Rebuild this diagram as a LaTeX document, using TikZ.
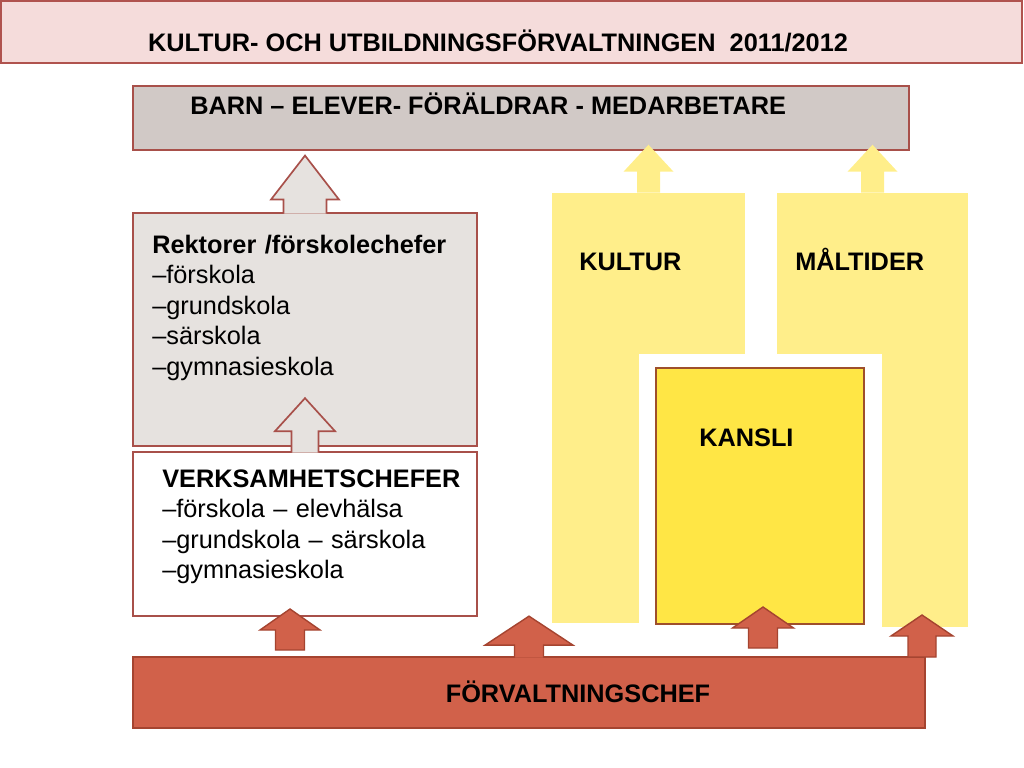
\documentclass[tikz,border=0pt]{standalone}
\usepackage{fontspec}
\setmainfont{Liberation Sans}
\usepackage{tikz}
\usetikzlibrary{positioning, fit}
\definecolor{orgtitle}{HTML}{F5DCDB}
\definecolor{orgtitleline}{HTML}{B0534E}
\definecolor{orgbarn}{HTML}{D1C9C6}
\definecolor{orgline}{HTML}{A8504A}
\definecolor{orgrekt}{HTML}{E6E2DF}
\definecolor{orgyellow}{HTML}{FFEE8A}
\definecolor{orgkansli}{HTML}{FFE645}
\definecolor{orgkansliline}{HTML}{9E4F2B}
\definecolor{orgred}{HTML}{D1614A}
\definecolor{orgredline}{HTML}{A54430}
% up arrow: [close], style, base, length, head length, head half width, shaft half width
\newcommand{\blockup}[7][]{\path[#2] (#3) ++(-#7,0) -- ++(0,-#4+#5) -- ++(-#6+#7,0)
  -- ++(#6,-#5) -- ++(#6,#5) -- ++(-#6+#7,0) -- ++(0,#4-#5) #1;}

\begin{document}
\begin{tikzpicture}[x=0.025cm, y=-0.025cm,
  box/.style={draw=orgline, line width=1.2pt, inner sep=0pt},
  ybox/.style={fill=orgyellow, inner sep=0pt},
  txt/.style={inner sep=0pt, font=\fontsize{18}{21.8}\selectfont},
  htxt/.style={txt, font=\fontsize{18}{21.8}\selectfont\bfseries},
  list/.style={txt, text width=8cm, align=left},
  garrow/.style={fill=orgrekt, draw=orgline, line width=1.2pt},
  yarrow/.style={fill=orgyellow},
  rarrow/.style={fill=orgred, draw=orgredline, line width=1pt}]
  \useasboundingbox (0,0) rectangle (1024,768);

  \node[box, fill=orgtitle, draw=orgtitleline, fit={(1,1) (1022,63)}] (title) {};
  \node[htxt, anchor=base] (titletxt) at (498,52) {KULTUR- OCH UTBILDNINGSFÖRVALTNINGEN \ 2011/2012};

  \node[box, fill=orgbarn, fit={(133,86) (909,150)}] (barn) {};
  \node[htxt, anchor=base west] (barntxt) at (190,115) {BARN – ELEVER- FÖRÄLDRAR - MEDARBETARE};

  \node[ybox, fit={(552,193) (745,623)}] (kultur) {};
  \node[ybox, fit={(777,193) (968,627)}] (maltid) {};
  \node[fill=white, inner sep=0pt, fit={(639,354) (882,634)}] (gap) {};
  \node[box, fill=orgkansli, draw=orgkansliline, fit={(656,368) (864,624)}] (kansli) {};
  \blockup{yarrow}{kultur.north}{48}{27}{25}{11.5}
  \blockup{yarrow}{maltid.north}{48}{27}{25}{11.5}
  \node[htxt, anchor=base west] (kulturtxt) at (579,270) {KULTUR};
  \node[htxt, anchor=base west] (maltidtxt) at (795,270) {MÅLTIDER};
  \node[htxt, anchor=base west] (kanslitxt) at (699,446) {KANSLI};

  \node[box, fill=orgrekt, fit={(133,213) (477,446)}] (rekt) {};
  \node[box, fill=white, fit={(133,452) (477,616)}] (verk) {};
  \blockup{garrow}{[yshift=-1pt]rekt.north}{58}{44}{34}{21.5}
  \blockup{garrow}{[yshift=-1pt]verk.north}{54.4}{33}{30}{13.5}
  \node[list, anchor=base west] (rekttxt) at (152,253)
    {\textbf{Rektorer /förskolechefer}\\–förskola\\–grundskola\\–särskola\\–gymnasieskola};
  \node[list, anchor=base west] (verktxt) at (162,487)
    {\textbf{VERKSAMHETSCHEFER}\\–förskola – elevhälsa\\–grundskola – särskola\\–gymnasieskola};

  \node[box, fill=orgred, draw=orgredline, fit={(133,657) (925,728)}] (chef) {};
  \node[htxt, anchor=base] (cheftxt) at (578,702) {FÖRVALTNINGSCHEF};
  \blockup{rarrow}{[yshift=-1pt]chef.north}{41.4}{29}{44}{14.5}
  \blockup[-- cycle]{rarrow}{290,650}{41}{21}{30}{14.5}
  \blockup[-- cycle]{rarrow}{763,648}{41}{21}{30.5}{14.5}
  \blockup[-- cycle]{rarrow}{922,657}{42}{21}{31}{14}
\end{tikzpicture}
\end{document}
